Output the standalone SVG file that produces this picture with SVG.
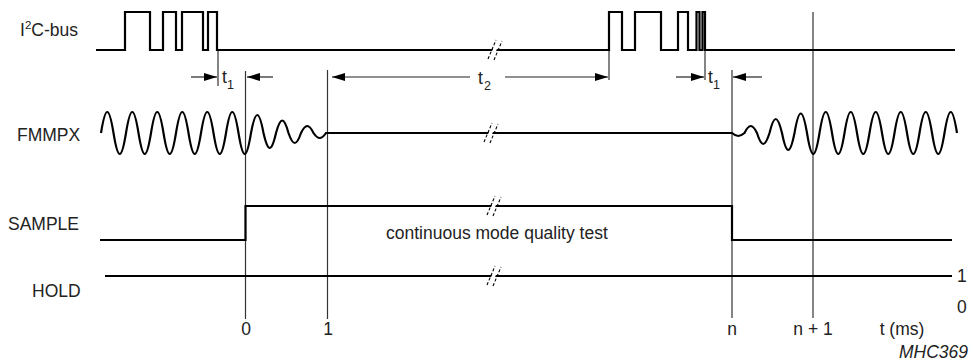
<svg xmlns="http://www.w3.org/2000/svg" width="969" height="364" viewBox="0 0 969 364">
<style>
text{font-family:"Liberation Sans",Arial,sans-serif;font-size:17.5px;fill:#222}
.sig{fill:none;stroke:#000;stroke-width:2.2;stroke-linejoin:miter}
.vl{stroke:#333;stroke-width:1.2;fill:none}
.ar{stroke:#222;stroke-width:1.2;fill:none;marker-end:url(#ah)}
.brk{stroke:#000;stroke-width:1.1;stroke-dasharray:3,2;fill:none}
.gap{fill:#fff;stroke:none}
.sub{font-size:12.5px}
</style>
<defs>
<marker id="ah" viewBox="0 0 13 8" refX="13" refY="4" markerWidth="13" markerHeight="8" orient="auto" markerUnits="userSpaceOnUse"><path d="M0,0 L13,4 L0,8 z" fill="#000"/></marker>
<g id="brkmark"><polygon class="gap" points="-6,8 1,-8 5,-8 -2,8"/><line class="brk" x1="-7" y1="9" x2="1" y2="-10"/><line class="brk" x1="-1" y1="10" x2="7" y2="-9"/></g>
</defs>

<g id="connectors">
<line class="vl" x1="218" y1="50" x2="218" y2="86"/>
<line class="vl" x1="245.5" y1="71" x2="245.5" y2="319"/>
<line class="vl" x1="327.5" y1="70" x2="327.5" y2="319"/>
<line class="vl" x1="609" y1="50" x2="609" y2="80"/>
<line class="vl" x1="705" y1="50" x2="705" y2="80"/>
<line class="vl" x1="732" y1="70" x2="732" y2="318"/>
<line class="vl" x1="813" y1="12" x2="813" y2="318"/>
<line class="ar" x1="191" y1="77" x2="217" y2="77"/>
<line class="ar" x1="273" y1="77" x2="247" y2="77"/>
<line class="ar" x1="470" y1="77" x2="332" y2="77"/>
<line class="ar" x1="505" y1="77" x2="608" y2="77"/>
<line class="ar" x1="676" y1="77" x2="704" y2="77"/>
<line class="ar" x1="762" y1="77" x2="733" y2="77"/>
<text x="222" y="83">t</text><text class="sub" x="227" y="89">1</text>
<text x="478" y="84">t</text><text class="sub" x="484" y="90">2</text>
<text x="708" y="83">t</text><text class="sub" x="713" y="89">1</text>
</g>

<g id="i2c">
<text x="20" y="36">I<tspan font-size="11.5" dy="-7">2</tspan><tspan dy="7">C-bus</tspan></text>
<path class="sig" d="M96,50 H125 V12 H150 V50 H163 V12 H176 V50 H182 V12 H203 V50 H208 V12 H217 V50 H609 V12 H622 V50 H635 V12 H661 V50 H678 V12 H688 V50 H696.5 V12 H699.5 V50 H702.5 V12 H705 V50 H955"/>
<use href="#brkmark" x="495" y="50"/>
</g>

<g id="fmmpx">
<text x="17" y="141">FMMPX</text>
<path class="sig" d="M101,133
c4.55,-28 7.95,-28 12.5,0 c4.55,28 7.95,28 12.5,0
c4.55,-28 7.95,-28 12.5,0 c4.55,28 7.95,28 12.5,0
c4.55,-28 7.95,-28 12.5,0 c4.55,28 7.95,28 12.5,0
c4.55,-28 7.95,-28 12.5,0 c4.55,28 7.95,28 12.5,0
c4.55,-28 7.95,-28 12.5,0 c4.55,28 7.95,28 12.5,0
c4.55,-28 7.95,-28 12.5,0 c4.55,28 7.95,28 12.5,0
c4.55,-24 7.95,-24 12.5,0 c4.55,20 7.95,20 12.5,0
c4.55,-16.67 7.95,-16.67 12.5,0 c4.55,13.33 7.95,13.33 12.5,0
c4.55,-9.33 7.95,-9.33 12.5,0 c4.55,6.67 7.95,6.67 12.5,0
H732
c4.55,4 7.95,4 12.5,0 c4.55,-9.33 7.95,-9.33 12.5,0
c4.55,14.67 7.95,14.67 12.5,0 c4.55,-18.67 7.95,-18.67 12.5,0
c4.55,22.67 7.95,22.67 12.5,0 c4.55,-26 7.95,-26 12.5,0
c4.55,28 7.95,28 12.5,0
c4.55,-28 7.95,-28 12.5,0 c4.55,28 7.95,28 12.5,0
c4.55,-28 7.95,-28 12.5,0 c4.55,28 7.95,28 12.5,0
c4.55,-28 7.95,-28 12.5,0 c4.55,28 7.95,28 12.5,0
c4.55,-28 7.95,-28 12.5,0 c4.55,28 7.95,28 12.5,0
c4.55,-28 7.95,-28 12.5,0 c4.55,28 7.95,28 12.5,0
c4.55,-28 7.95,-28 12.5,0"/>
<use href="#brkmark" x="491" y="133"/>
</g>

<g id="sample">
<text x="8" y="230">SAMPLE</text>
<path class="sig" d="M100,240 H245.5 V206 H732 V240 H952"/>
<use href="#brkmark" x="494" y="206"/>
<text x="386" y="239" font-size="13.5">continuous mode quality test</text>
</g>

<g id="hold">
<text x="32" y="297">HOLD</text>
<path class="sig" d="M105,276 H952"/>
<use href="#brkmark" x="494" y="276"/>
<text x="957" y="282">1</text>
<text x="957" y="313">0</text>
</g>

<g id="axis">
<text x="246" y="335" text-anchor="middle">0</text>
<text x="328" y="335" text-anchor="middle">1</text>
<text x="732" y="335" text-anchor="middle">n</text>
<text x="813" y="335" text-anchor="middle">n + 1</text>
<text x="902" y="335" text-anchor="middle">t (ms)</text>
<text x="968" y="358" text-anchor="end" font-size="11" font-style="italic">MHC369</text>
</g>
</svg>
